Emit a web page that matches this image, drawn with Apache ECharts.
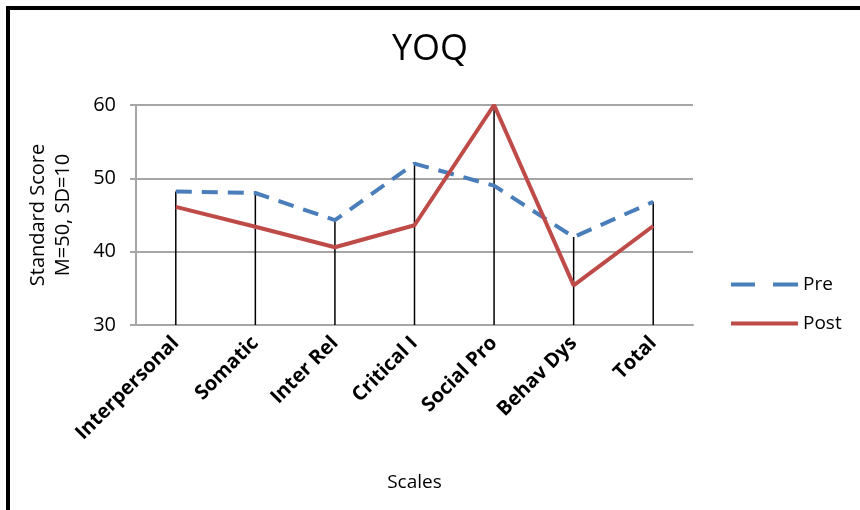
<!DOCTYPE html>
<html>
<head>
<meta charset="utf-8">
<script src="https://cdn.jsdelivr.net/npm/echarts@6/dist/echarts.min.js"></script>
<style>
  html, body { margin: 0; padding: 0; background: #fff; }
  #frame { position: absolute; left: 6px; top: 6px; width: 854px; height: 504px;
           border-left: 4px solid #000; border-top: 4px solid #000; box-sizing: border-box; }
  #chart { position: absolute; left: 0; top: 0; width: 860px; height: 510px; }
</style>
</head>
<body>
<div id="chart"></div>
<div id="frame"></div>
<script>
const scales = ['Interpersonal', 'Somatic', 'Inter Rel', 'Critical I', 'Social Pro', 'Behav Dys', 'Total']
const pre = [48.2, 48.0, 44.3, 52.0, 49.0, 42.0, 46.8]
const post = [46.1, 43.4, 40.6, 43.6, 60.0, 35.4, 43.5]
const yTicks = [30, 40, 50, 60]

const font = '"Open Sans", sans-serif'
const myChart = echarts.init(document.getElementById('chart'), null, {renderer: 'canvas'})

const option = {
    backgroundColor: '#fff',
    animation: false,
    title: {
        text: 'YOQ',
        left: 'center',
        top: 27,
        textStyle: {fontFamily: font, fontSize: 36, fontWeight: 'normal', color: '#000'}
    },
    legend: {
        data: [
            {name: 'Pre', icon: 'path://M0,0H24V4H0Z M42,0H67V4H42Z'},
            {name: 'Post', icon: 'rect'}
        ],
        orient: 'vertical',
        left: 726,
        top: 270,
        itemWidth: 67,
        itemHeight: 4,
        itemGap: 20,
        textStyle: {fontFamily: font, fontSize: 19, color: '#000'}
    },
    grid: {left: 136, right: 167, top: 105, bottom: 185},
    xAxis: {
        type: 'category',
        data: scales,
        name: 'Scales',
        nameLocation: 'middle',
        nameGap: 148,
        nameTextStyle: {fontFamily: font, fontSize: 19, color: '#000'},
        axisLine: {lineStyle: {color: '#a6a6a6', width: 2}},
        axisTick: {show: false},
        axisLabel: {
            rotate: 45,
            margin: 15,
            fontFamily: font,
            fontSize: 20,
            fontWeight: 'bold',
            color: '#000'
        }
    },
    yAxis: {
        type: 'value',
        min: yTicks[0],
        max: yTicks[yTicks.length - 1],
        interval: 10,
        name: 'Standard Score\nM=50, SD=10',
        nameLocation: 'middle',
        nameGap: 60,
        nameTextStyle: {fontFamily: font, fontSize: 20, color: '#000', lineHeight: 25},
        axisLine: {show: true, lineStyle: {color: '#a6a6a6', width: 2}},
        axisTick: {show: true, length: 6, lineStyle: {color: '#a6a6a6', width: 2}},
        axisLabel: {fontFamily: font, fontSize: 20, color: '#000', margin: 20},
        splitLine: {lineStyle: {color: '#a6a6a6', width: 2}}
    },
    series: [
        {
            name: 'drop',
            type: 'custom',
            z: 1,
            silent: true,
            data: scales.map((s, i) => [i, pre[i], post[i]]),
            renderItem: (params, api) => {
                const top = api.coord([api.value(0), Math.max(api.value(1), api.value(2))])
                const bottom = api.coord([api.value(0), yTicks[0]])
                return {
                    type: 'line',
                    shape: {x1: top[0], y1: top[1], x2: bottom[0], y2: bottom[1]},
                    style: {stroke: '#000', lineWidth: 1.5}
                }
            }
        },
        {
            name: 'Pre',
            type: 'line',
            z: 3,
            data: pre,
            symbol: 'none',
            color: '#4a7ebb',
            lineStyle: {color: '#4a7ebb', width: 4, type: [16, 10]}
        },
        {
            name: 'Post',
            type: 'line',
            z: 3,
            data: post,
            symbol: 'none',
            color: '#be4b48',
            lineStyle: {color: '#be4b48', width: 4}
        }
    ]
}

myChart.setOption(option)
</script>
</body>
</html>
